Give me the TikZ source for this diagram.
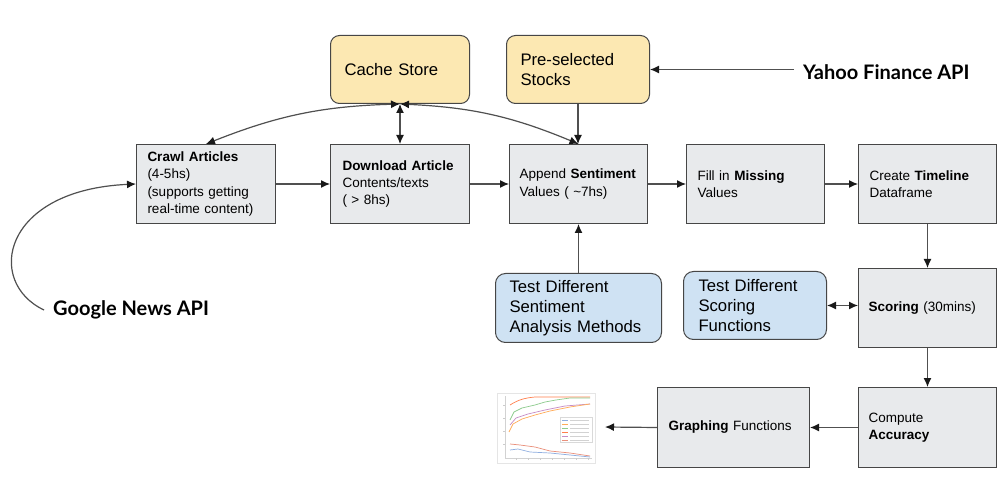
\documentclass[tikz,border=0pt]{standalone}
\usepackage{fontspec}
\setmainfont{Liberation Sans}
\newfontfamily\lato{Lato}
\usetikzlibrary{arrows.meta}
\definecolor{boxgray}{RGB}{232,234,236}
\definecolor{bordercol}{RGB}{70,70,70}
\definecolor{ycol}{RGB}{252,232,178}
\definecolor{bcol}{RGB}{207,226,243}
\definecolor{arrcol}{RGB}{80,80,80}
\definecolor{tipcol}{RGB}{25,25,25}
\tikzset{
  gbox/.style={draw=bordercol, fill=boxgray, line width=1pt, anchor=north west, align=left,
    inner ysep=0pt, font=\fontsize{13.5}{17.3}\selectfont},
  ybox/.style={draw=bordercol, fill=ycol, line width=1pt, rounded corners=9pt, anchor=north west,
    align=left, inner ysep=0pt, font=\fontsize{16.7}{20.5}\selectfont},
  bbox/.style={draw=bordercol, fill=bcol, line width=1pt, rounded corners=10pt, anchor=north west,
    align=left, inner ysep=0pt, font=\fontsize{16.7}{20}\selectfont},
  apilabel/.style={anchor=west, inner xsep=9pt, inner ysep=0pt, font=\lato\bfseries\fontsize{20}{24}\selectfont},
  arr/.style={draw=arrcol, line width=1.2pt, -{Latex[length=9pt,width=8pt,color=tipcol]}},
  darr/.style={draw=arrcol, line width=1.2pt, {Latex[length=9pt,width=8pt,color=tipcol]}-{Latex[length=9pt,width=8pt,color=tipcol]}},
  plotline/.style={line width=0.7pt},
}
\begin{document}
\begin{tikzpicture}[x=1pt,y=1pt]
\useasboundingbox (0,0) rectangle (1007,-478);
\fill[white] (0,0) rectangle (1007,-478);

% top rounded boxes
\node[ybox, minimum width=139, minimum height=68, inner xsep=14pt, text width=111] (cache) at (330,-35) {Cache Store};
\node[ybox, minimum width=143, minimum height=68, inner xsep=14pt, text width=115] (pre) at (506,-35) {Pre-selected\\Stocks};

% main row
\node[gbox, minimum width=139, minimum height=79, inner xsep=11pt, text width=117] (crawl) at (136,-144)
  {\textbf{Crawl Articles}\\(4-5hs)\\(supports getting\\real-time content)};
\node[gbox, minimum width=139, minimum height=79, inner xsep=12pt, text width=115] (download) at (330,-144)
  {\textbf{Download Article}\\Contents/texts\\( > 8hs)};
\node[gbox, minimum width=138, minimum height=79, inner xsep=10pt, text width=118] (append) at (509,-144)
  {Append \textbf{Sentiment}\\Values ( \textasciitilde7hs)};
\node[gbox, minimum width=138, minimum height=79, inner xsep=11pt, text width=116] (fill) at (686,-144)
  {Fill in \textbf{Missing}\\Values};
\node[gbox, minimum width=138, minimum height=79, inner xsep=11pt, text width=116] (timeline) at (858,-144)
  {Create \textbf{Timeline}\\Dataframe};

% test boxes
\node[bbox, minimum width=166, minimum height=69, inner xsep=14pt, text width=138] (sentest) at (495,-273)
  {Test Different\\Sentiment\\Analysis Methods};
\node[bbox, minimum width=143, minimum height=68, inner xsep=15pt, text width=113] (scoretest) at (683,-271)
  {Test Different\\Scoring\\Functions};

\node[gbox, minimum width=138, minimum height=79, inner xsep=10pt, text width=118] (scoring) at (858,-268)
  {\textbf{Scoring} (30mins)};
\node[gbox, minimum width=138, minimum height=80, inner xsep=10pt, text width=118] (compute) at (858,-387)
  {Compute\\\textbf{Accuracy}};
\node[gbox, minimum width=152, minimum height=80, inner xsep=11pt, text width=130] (graphing) at (657,-387)
  {\textbf{Graphing} Functions};

% API labels
\node[apilabel] (yahoo) at (794,-72) {Yahoo Finance API};
\node[apilabel] (gnews) at (44,-310) {Google News API};

% thumbnail plot
\node[draw=gray!20, fill=white, line width=0.5pt, minimum width=98, minimum height=70, inner sep=0, anchor=north west] (thumb) at (497,-393) {};
\coordinate (plotend) at (605,-427);
\begin{scope}
  \draw[gray!35, line width=0.4pt] (505,-396) -- (505,-458) -- (592,-458);
  \foreach \yy in {-405,-418,-431,-444} \draw[gray!40, line width=0.3pt] (503,\yy) -- (505,\yy);
  \foreach \xx in {516,528,540,552,564,576,588} \draw[gray!40, line width=0.3pt] (\xx,-458) -- (\xx,-460);
  \draw[plotline, red!45!orange!70] (510,-405) .. controls (518,-400) and (524,-398) .. (535,-397) -- (590,-397);
  \draw[plotline, green!55!black!45] (510,-420) -- (514,-412) -- (522,-408) -- (535,-405) -- (545,-402) -- (556,-400) -- (570,-398) -- (590,-398);
  \draw[plotline, violet!45] (510,-425) -- (516,-418) -- (528,-414) -- (545,-410) -- (565,-406) -- (590,-404);
  \draw[plotline, orange!65] (509,-432) -- (513,-424) -- (522,-419) -- (535,-415) -- (550,-411) -- (570,-407) -- (590,-404);
  \draw[plotline, red!45!brown!60] (510,-444) -- (520,-445) -- (535,-447) -- (550,-451) -- (570,-453) -- (590,-456);
  \draw[plotline, cyan!50!blue!45] (510,-450) -- (518,-449) -- (530,-452) -- (550,-453) -- (570,-455) -- (590,-457);
  \draw[gray!30, fill=white, line width=0.3pt] (560,-417) rectangle (592,-442);
  \foreach \yy/\cc in {-420/cyan!50!blue!45, -424/orange!65, -428/green!55!black!45, -432/red!45!orange!70, -436/violet!45, -440/red!45!brown!60}{
    \draw[\cc, line width=0.5pt] (562,\yy) -- (568,\yy);
    \draw[gray!35, line width=0.6pt] (570,\yy) -- (589,\yy);
  }
\end{scope}

% connectors
\draw[arr] (crawl) -- (download);
\draw[arr] (download) -- (append);
\draw[arr] (append) -- (fill);
\draw[arr] (fill) -- (timeline);
\draw[arr] (pre.south) -- (pre.south |- append.north);
\draw[darr] (cache.south) -- (download.north);
\draw[darr] (cache.south) to[bend right=10] (crawl.north);
\draw[darr] (cache.south) to[bend left=10] (append.north);
\draw[arr] (sentest.north) -- (sentest.north |- append.south);
\draw[arr] (timeline.south) -- (scoring.north);
\draw[darr] (scoretest.east) -- (scoretest.east -| scoring.west);
\draw[arr] (scoring.south) -- (compute.north);
\draw[arr] (compute.west) -- (compute.west -| graphing.east);
\draw[arr] (graphing.west) -- (plotend);
\draw[arr] (yahoo.west |- pre.east) -- (pre.east);
\draw[arr] (gnews.west) .. controls (-15,-282) and (2,-190) .. (crawl.west);
\end{tikzpicture}
\end{document}
